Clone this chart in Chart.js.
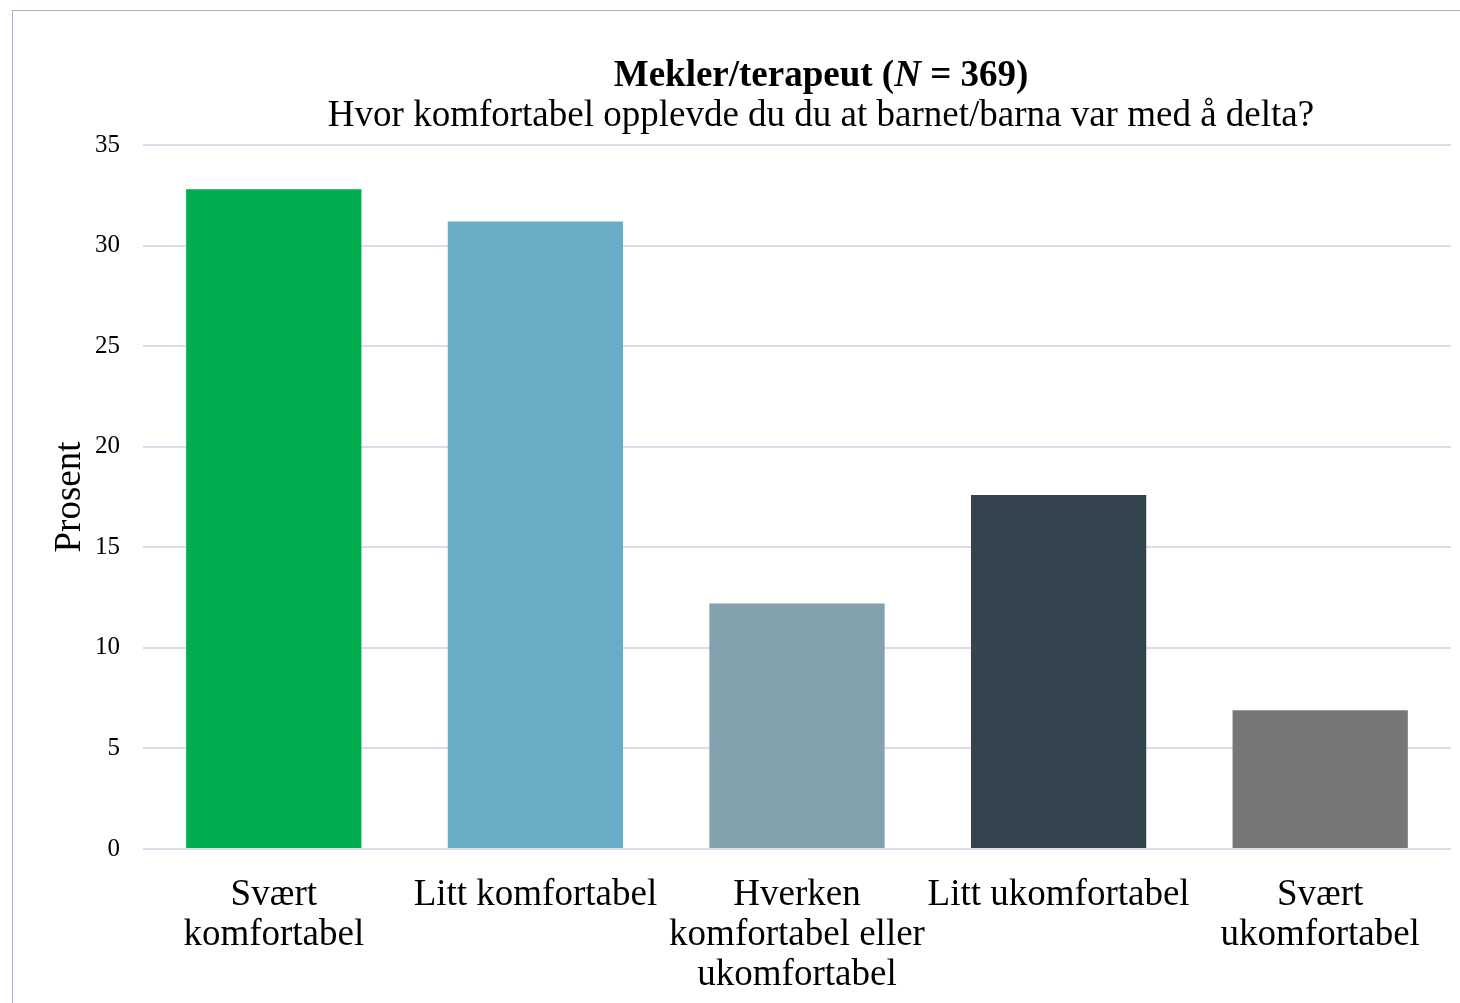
<!DOCTYPE html>
<html>
<head>
<meta charset="utf-8">
<script src="https://cdn.jsdelivr.net/npm/chart.js@4.4.1/dist/chart.umd.min.js"></script>
<style>
  html, body { margin: 0; padding: 0; background: #ffffff; overflow: hidden; }
  #ramme { position: absolute; left: 12px; top: 10px; width: 1600px; height: 1100px;
           border-top: 1px solid #A9AED9; border-left: 1px solid #A9AED9; }
  #wrap { position: absolute; left: 0; top: 0; width: 1460px; height: 1003px; }
</style>
</head>
<body>
<div id="ramme"></div>
<div id="wrap"><canvas id="barChart" width="1460" height="1003"></canvas></div>
<script>
// kategorier og verdier (prosent)
const kategorier = [
  ['Svært', 'komfortabel'],
  'Litt komfortabel',
  ['Hverken', 'komfortabel eller', 'ukomfortabel'],
  'Litt ukomfortabel',
  ['Svært', 'ukomfortabel']
];
const verdier = [32.8, 31.2, 12.2, 17.6, 6.9];
const farger = ['#00AE4F', '#67ADC5', '#84A1AE', '#33444F', '#777777'];
const yTicks = [0, 5, 10, 15, 20, 25, 30, 35];

const skrift = '"Liberation Serif", "DejaVu Serif", serif';

// tittel med kursiv N
const tittelPlugin = {
  id: 'tittel',
  afterDraw(chart) {
    const ctx = chart.ctx;
    const cx = 821;
    ctx.save();
    ctx.fillStyle = '#000000';
    ctx.textBaseline = 'alphabetic';
    ctx.textAlign = 'left';
    const deler = [
      { t: 'Mekler/terapeut (', f: 'bold 37px ' + skrift },
      { t: 'N', f: 'italic bold 37px ' + skrift },
      { t: ' = 369)', f: 'bold 37px ' + skrift }
    ];
    let total = 0;
    deler.forEach(d => { ctx.font = d.f; d.w = ctx.measureText(d.t).width; total += d.w; });
    let x = cx - total / 2;
    deler.forEach(d => { ctx.font = d.f; ctx.fillText(d.t, x, 86); x += d.w; });
    ctx.font = '37px ' + skrift;
    ctx.textAlign = 'center';
    ctx.fillText('Hvor komfortabel opplevde du du at barnet/barna var med å delta?', cx, 126);
    ctx.restore();
  }
};

const ctx = document.getElementById('barChart').getContext('2d');
new Chart(ctx, {
  type: 'bar',
  data: {
    labels: kategorier,
    datasets: [{
      data: verdier,
      backgroundColor: farger,
      borderWidth: 0,
      categoryPercentage: 1,
      barPercentage: 0.67
    }]
  },
  options: {
    responsive: false,
    animation: false,
    layout: { padding: { top: 145, right: 9, left: 0, bottom: 0 } },
    plugins: {
      legend: { display: false },
      tooltip: { enabled: false }
    },
    scales: {
      x: {
        afterFit: (s) => { s.height = 154; },
        grid: { display: false },
        border: { display: false },
        ticks: {
          color: '#000000',
          padding: 18,
          maxRotation: 0,
          autoSkip: false,
          font: { family: skrift, size: 37, lineHeight: 40 / 37 }
        }
      },
      y: {
        min: 0,
        max: 35,
        afterFit: (s) => { s.width = 143; },
        afterBuildTicks: (s) => { s.ticks = yTicks.map(v => ({ value: v })); },
        border: { display: false },
        grid: { color: '#DCDDEB', lineWidth: 2, drawTicks: false },
        ticks: {
          color: '#000000',
          padding: 23,
          font: { family: skrift, size: 25 }
        },
        title: {
          display: true,
          text: 'Prosent',
          color: '#000000',
          padding: { top: 48, bottom: 0 },
          font: { family: skrift, size: 37 }
        }
      }
    }
  },
  plugins: [tittelPlugin]
});
</script>
</body>
</html>
